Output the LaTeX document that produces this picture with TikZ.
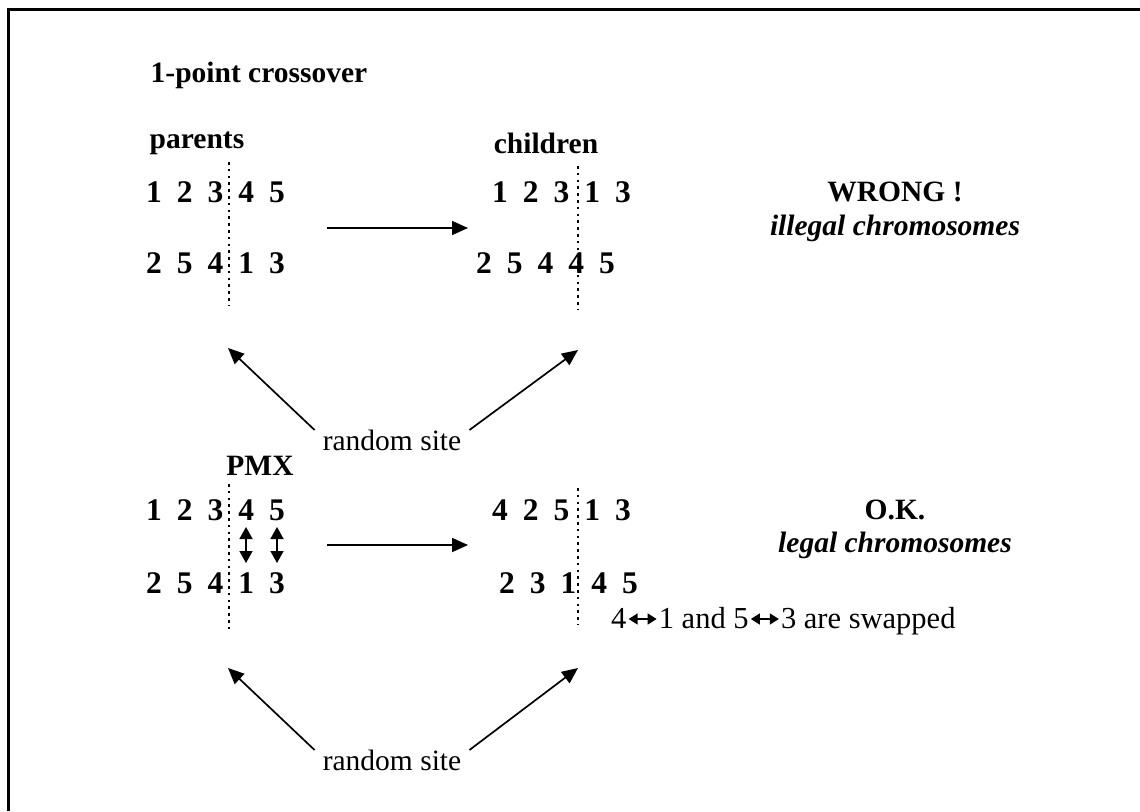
\documentclass[tikz,border=0pt]{standalone}
\usepackage{fontspec}
\setmainfont{Liberation Serif}
\usetikzlibrary{arrows.meta,calc}

% five genes of a chromosome, one per fixed-width cell
\newlength{\genepitch}
\setlength{\genepitch}{30.7pt}
\newcommand{\chromrow}[5]{%
  \makebox[\genepitch][c]{#1}\makebox[\genepitch][c]{#2}\makebox[\genepitch][c]{#3}%
  \makebox[\genepitch][c]{#4}\makebox[\genepitch][c]{#5}}

\tikzset{
  txt/.style={inner sep=0pt, font=\fontsize{29.5}{34}\selectfont},
  bold/.style={txt, font=\fontsize{29.5}{34}\selectfont\bfseries},
  boldit/.style={txt, font=\fontsize{29.5}{34}\selectfont\bfseries\itshape},
  gene/.style={inner sep=0pt, font=\fontsize{31.5}{34}\selectfont\bfseries},
  cut/.style={line width=2.6pt, dash pattern=on 2.6pt off 4.2pt},
  arr/.style={line width=1.7pt, -{Triangle[length=16pt,width=14pt]}},
  swaparr/.style={line width=1.6pt, {Triangle[length=12pt,width=13pt]}-{Triangle[length=12pt,width=13pt]}},
  smallswap/.style={line width=1.4pt, {Triangle[length=9pt,width=11pt]}-{Triangle[length=9pt,width=11pt]}},
  frame/.style={line width=3pt}
}

\begin{document}
\begin{tikzpicture}[x=1pt,y=-1pt]
\useasboundingbox (0,0) rectangle (1140,811);
\fill[white] (0,0) rectangle (1140,811);

% outer frame (only the left and top edges lie on the page)
\draw[frame] (8.5,811) -- (8.5,9.5) -- (1140,9.5);

% ---------- 1-point crossover ----------
\node[bold] (title1) at (259,75) {1-point crossover};
\node[bold] (parents) at (197,143) {parents};
\node[bold] (children) at (546,143) {children};

\node[gene] (p1a) at (215.5,192) {\chromrow12345};
\node[gene] (p1b) at (215.5,263) {\chromrow25413};
\node[gene] (c1a) at (561.5,192) {\chromrow12313};
\node[gene] (c1b) at (545.5,263) {\chromrow25445};

\node[bold] (wrong) at (895,192) {WRONG !};
\node[boldit] (illegal) at (895,228) {illegal chromosomes};

\coordinate (pc1top) at (229,162);  \coordinate (pc1bot) at (229,305);
\coordinate (cc1top) at (578,166);  \coordinate (cc1bot) at (578,310);
\draw[cut] (pc1top) -- (pc1bot);
\draw[cut] (cc1top) -- (cc1bot);

\coordinate (go1s) at (327,228); \coordinate (go1e) at (468,228);
\draw[arr] (go1s) -- (go1e);

\node[txt] (site1) at (392,440) {random site};
\coordinate (tipL1) at (228,348);
\coordinate (tipR1) at (578,350);
\draw[arr] ($(site1.west)+(-8,-10)$) -- (tipL1);
\draw[arr] ($(site1.east)+(8,-10)$) -- (tipR1);

% ---------- PMX ----------
\node[bold] (title2) at (260,466) {PMX};

\node[gene] (p2a) at (215.5,510) {\chromrow12345};
\node[gene] (p2b) at (215.5,583) {\chromrow25413};
\node[gene] (c2a) at (561.5,510) {\chromrow42513};
\node[gene] (c2b) at (568.5,583) {\chromrow23145};

\node[bold] (ok) at (895,510) {O.K.};
\node[boldit] (legal) at (895,545) {legal chromosomes};

% the mapped genes 4<->1 and 5<->3
\coordinate (sw1t) at (246,527); \coordinate (sw1b) at (246,563);
\coordinate (sw2t) at (277,527); \coordinate (sw2b) at (277,563);
\draw[swaparr] (sw1t) -- (sw1b);
\draw[swaparr] (sw2t) -- (sw2b);

\coordinate (pc2top) at (229,484);  \coordinate (pc2bot) at (229,630);
\coordinate (cc2top) at (578,488);  \coordinate (cc2bot) at (578,625);
\draw[cut] (pc2top) -- (pc2bot);
\draw[cut] (cc2top) -- (cc2bot);

\coordinate (go2s) at (327,545); \coordinate (go2e) at (468,545);
\draw[arr] (go2s) -- (go2e);

% note on the swapped genes, all on one baseline
\node[txt, anchor=base west, font=\fontsize{30.5}{34}\selectfont] (n4) at (611,628) {4};
\node[txt, anchor=base west, font=\fontsize{30.5}{34}\selectfont] (n1) at ($(n4.base east)+(32,0)$) {1 and 5};
\node[txt, anchor=base west, font=\fontsize{30.5}{34}\selectfont] (n3) at ($(n1.base east)+(32,0)$) {3 are swapped};
\draw[smallswap] ($(n4.base east)+(2,-9)$) -- ($(n1.base west)+(-2,-9)$);
\draw[smallswap] ($(n1.base east)+(2,-9)$) -- ($(n3.base west)+(-2,-9)$);

\node[txt] (site2) at (392,760) {random site};
\coordinate (tipL2) at (228,668);
\coordinate (tipR2) at (578,668);
\draw[arr] ($(site2.west)+(-8,-10)$) -- (tipL2);
\draw[arr] ($(site2.east)+(8,-10)$) -- (tipR2);
\end{tikzpicture}
\end{document}
